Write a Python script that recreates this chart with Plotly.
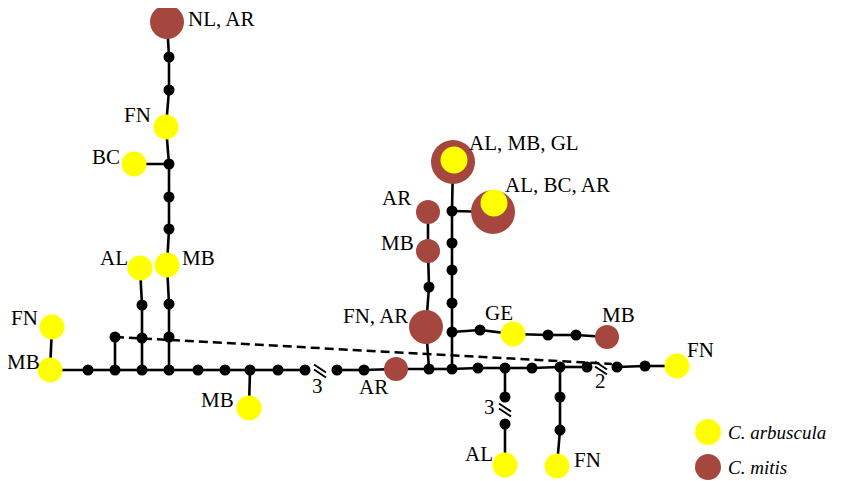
import plotly.graph_objects as go

# ---- network data (node id, x, y, kind) ----
node_ids = ["MB1","FN1","d1","d2","d3","d4","d5","d6","d7","d8","d9","d10","d11","AR1",
            "d12","d13","d14","d15","d16","d17","d18","d19","d20","FNr",
            "d2u","d3a","d3b","AL1","d4a","d4b","MB2","d4c","d4d","d4e","FN2","d4f","d4g","NLAR","BC","MB3",
            "FNAR","d12b","MB4","AR2","j1","d13b","d13c","d13d","j2","ALMBGL","ALBCAR",
            "g1","GE","g2","g3","MB5","e1","e2","AL2","f1","f2","FN3"]
node_x = [50,52,88,115,142,169,198,225,250,278,305,337,364,396,
          429,452,478,505,532,560,587,617,645,677,
          115,142,142,140,169,169,167,169,169,169,166,169,169,167,134,249,
          426,429,428,428,452,452,452,452,452,453,493,
          480,513,548,576,607,505,505,505,560,560,557]
node_y = [370,327,370,370,370,370,370,370,370,370,370,370,370,369,
          369,369,368,368,368,367,367,367,366,366,
          337,338,305,268,337,304,265,229,197,164,127,90,57,22,164,408,
          327,287,251,212,332,303,270,243,211,162,212,
          330,334,335,335,337,397,424,465,397,430,466]
# kinds: m = median vector, a = C. arbuscula, s = C. mitis (size class), b = both
node_kind = ["a","a","m","m","m","m","m","m","m","m","m","m","m","s1",
             "m","m","m","m","m","m","m","m","m","a",
             "m","m","m","a","m","m","a","m","m","m","a","m","m","s2","a","a",
             "s2","m","s1","s1","m","m","m","m","m","b","b",
             "m","a","m","m","s1","m","m","a","m","m","a"]

edges = [("FN1","MB1"),("MB1","d1"),("d1","d2"),("d2","d3"),("d3","d4"),("d4","d5"),("d5","d6"),
         ("d6","d7"),("d7","d8"),("d8","d9"),("d10","d11"),("d11","AR1"),("AR1","d12"),
         ("d12","d13"),("d13","d14"),("d14","d15"),("d15","d16"),("d16","d17"),("d17","d18"),
         ("d19","d20"),("d20","FNr"),
         ("d2","d2u"),("d3","d3a"),("d3a","d3b"),("d3b","AL1"),
         ("d4","d4a"),("d4a","d4b"),("d4b","MB2"),("MB2","d4c"),("d4c","d4d"),("d4d","d4e"),
         ("d4e","FN2"),("FN2","d4f"),("d4f","d4g"),("d4g","NLAR"),("d4e","BC"),("d7","MB3"),
         ("d12","FNAR"),("FNAR","d12b"),("d12b","MB4"),("MB4","AR2"),
         ("d13","j1"),("j1","d13b"),("d13b","d13c"),("d13c","d13d"),("d13d","j2"),("j2","ALMBGL"),
         ("j2","ALBCAR"),("j1","g1"),("g1","GE"),("GE","g2"),("g2","g3"),("g3","MB5"),
         ("d15","e1"),("e2","AL2"),("d17","f1"),("f1","f2"),("f2","FN3")]
# broken edges: (from, to, hash x, hash y, count label, label x, label y)
breaks = [("d9","d10",320,371,"3",317,386),
          ("d18","d19",601,368,"2",600,381),
          ("e1","e2",505,410,"3",489,407)]
dashed = ("d2u", (612, 364))

labels = [("NL, AR",186,19,"left"),("FN",153,115,"right"),("BC",122,157,"right"),
          ("AL",130,258,"right"),("MB",180,258,"left"),("FN",40,318,"right"),
          ("MB",42,362,"right"),("MB",236,400,"right"),("AR",390,387,"right"),
          ("FN, AR",410,316,"right"),("AR",413,198,"right"),("MB",416,243,"right"),
          ("AL, MB, GL",467,143,"left"),("AL, BC, AR",503,185,"left"),("GE",483,313,"left"),
          ("MB",600,315,"left"),("FN",685,350,"left"),("AL",495,454,"right"),("FN",572,460,"left")]

legend_names = ["<i>C. arbuscula</i>", "<i>C. mitis</i>"]

YELLOW = "#FFFF00"
MITIS = "#A6473F"
FONT = "Liberation Serif"
FS = 21

pos = {n: (x, y) for n, x, y in zip(node_ids, node_x, node_y)}
kind = dict(zip(node_ids, node_kind))

fig = go.Figure()

# solid edges
ex, ey = [], []
for a, b in edges:
    ex += [pos[a][0], pos[b][0], None]
    ey += [pos[a][1], pos[b][1], None]
fig.add_trace(go.Scatter(x=ex, y=ey, mode="lines", line=dict(color="black", width=2.6),
                         hoverinfo="skip", showlegend=False))

# dashed edge
fig.add_trace(go.Scatter(x=[pos[dashed[0]][0], dashed[1][0]], y=[pos[dashed[0]][1], dashed[1][1]],
                         mode="lines", line=dict(color="black", width=2.5, dash="9px,5px"),
                         hoverinfo="skip", showlegend=False))

# hash marks on broken edges
hx, hy = [], []
for a, b, cx, cy, t, lx, ly in breaks:
    for off in (-2.5, 2.5):
        hx += [cx - 6, cx + 6, None]
        hy += [cy - 4 + off, cy + 4 + off, None]
fig.add_trace(go.Scatter(x=hx, y=hy, mode="lines", line=dict(color="black", width=2),
                         hoverinfo="skip", showlegend=False))

def add_nodes(sel, size, color):
    xs = [pos[n][0] for n in node_ids if kind[n] in sel]
    ys = [pos[n][1] for n in node_ids if kind[n] in sel]
    fig.add_trace(go.Scatter(x=xs, y=ys, mode="markers",
                             marker=dict(size=size, color=color, line=dict(width=0)),
                             hoverinfo="skip", showlegend=False))

add_nodes({"m"}, 11, "black")
add_nodes({"a"}, 25, YELLOW)
add_nodes({"s1"}, 24, MITIS)
add_nodes({"s2"}, 34, MITIS)
add_nodes({"b"}, 44, MITIS)
# inner yellow of mixed haplotypes (slightly shifted up)
bx = [pos[n][0] + 1 for n in node_ids if kind[n] == "b"]
by = [pos[n][1] - (2 if n == "ALMBGL" else 9) for n in node_ids if kind[n] == "b"]
fig.add_trace(go.Scatter(x=bx, y=by, mode="markers",
                         marker=dict(size=27, color=YELLOW, line=dict(width=0)),
                         hoverinfo="skip", showlegend=False))

# legend (drawn)
fig.add_trace(go.Scatter(x=[708, 708], y=[432, 467], mode="markers",
                         marker=dict(size=26, color=[YELLOW, MITIS], line=dict(width=0)),
                         hoverinfo="skip", showlegend=False))
for name, ly in zip(legend_names, [432, 467]):
    fig.add_annotation(x=726, y=ly, text=name, showarrow=False, xanchor="left", yanchor="middle",
                       font=dict(family=FONT, size=19, color="black"))

for t, x, y, anc in labels:
    fig.add_annotation(x=x, y=y, text=t, showarrow=False, xanchor=anc, yanchor="middle",
                       font=dict(family=FONT, size=FS, color="black"))
for a, b, cx, cy, t, lx, ly in breaks:
    fig.add_annotation(x=lx, y=ly, text=t, showarrow=False, xanchor="center", yanchor="middle",
                       font=dict(family=FONT, size=FS, color="black"))

# page body has an 8px margin: shrink the figure and offset the ranges so
# data coordinates map to window pixels
OFF = 8
fig.update_layout(width=841 - OFF, height=481 - OFF, margin=dict(l=0, r=0, t=0, b=0),
                  paper_bgcolor="white", plot_bgcolor="white",
                  xaxis=dict(range=[OFF, 841], visible=False, fixedrange=True),
                  yaxis=dict(range=[481, OFF], visible=False, fixedrange=True),
                  showlegend=False)
fig.write_html("out.html")
